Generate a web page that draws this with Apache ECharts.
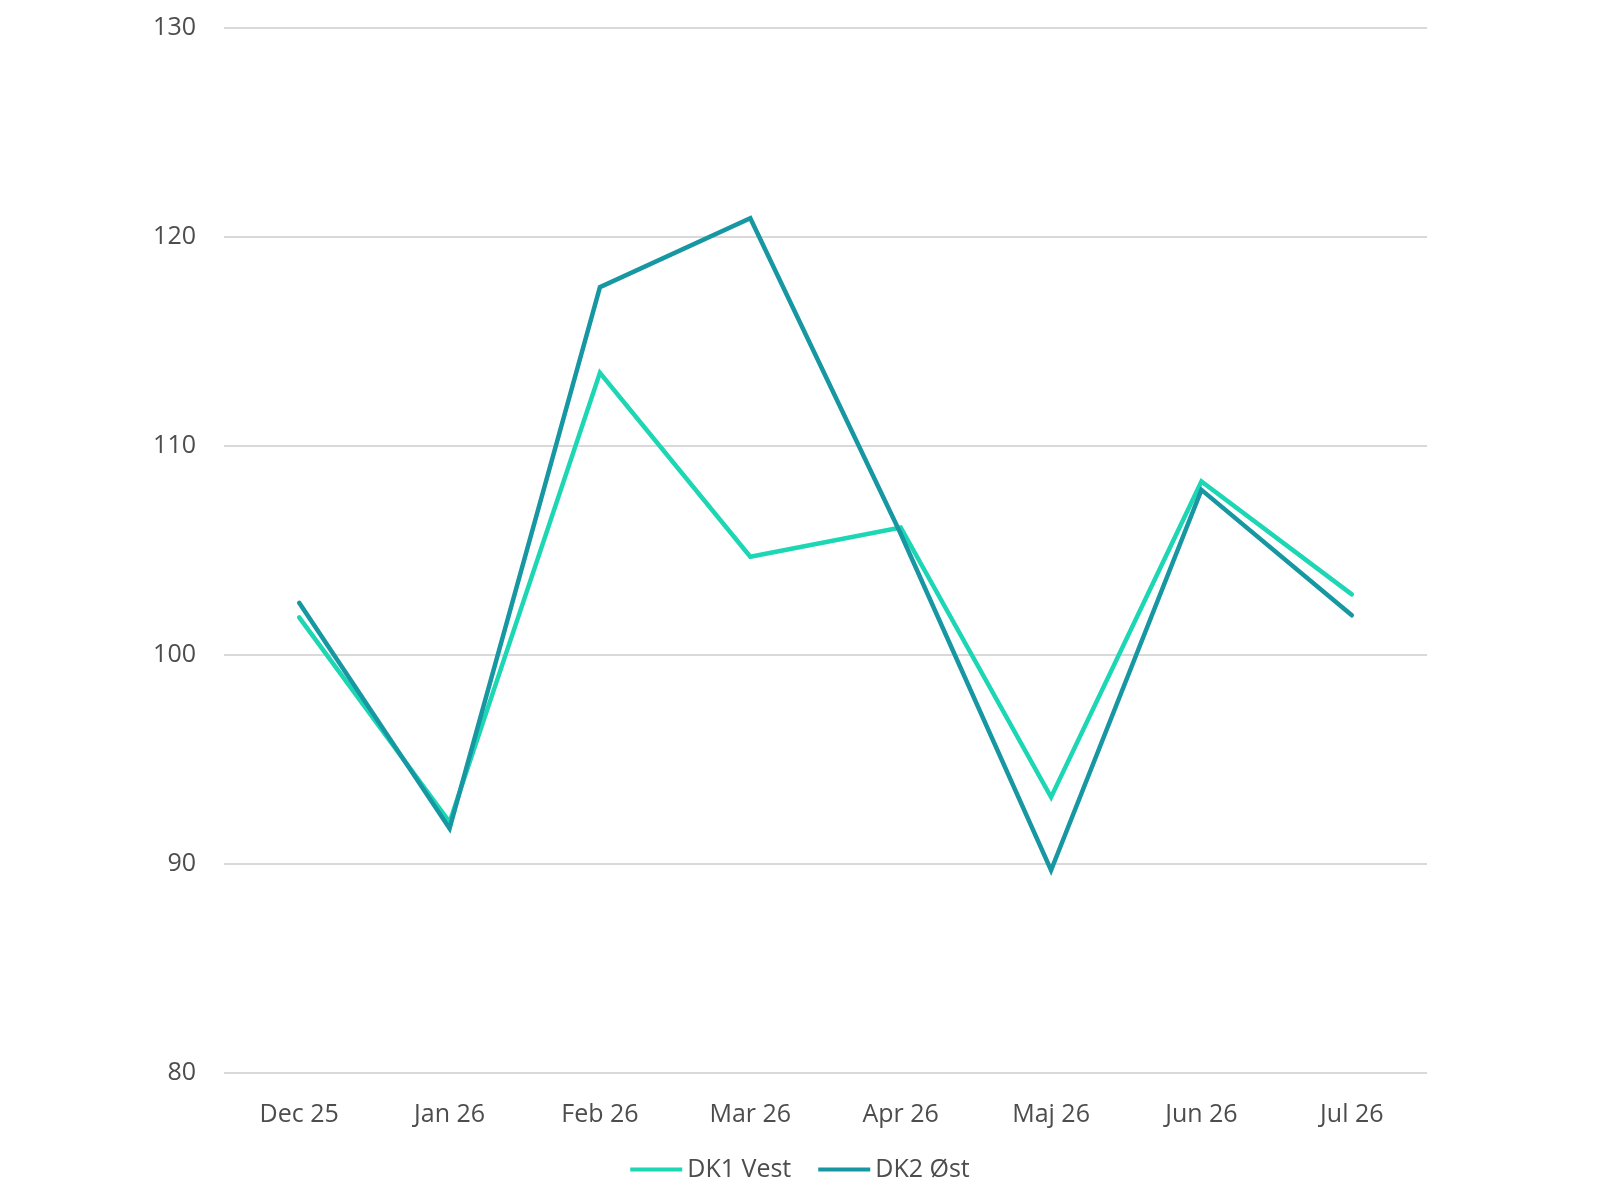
<!DOCTYPE html>
<html>
<head>
<meta charset="utf-8">
<script src="https://cdn.jsdelivr.net/npm/echarts@6/dist/echarts.min.js"></script>
<style>html,body{margin:0;padding:0;background:#fff}#c{width:1600px;height:1200px}</style>
</head>
<body>
<div id="c"></div>
<script>
const categories = ['Dec 25', 'Jan 26', 'Feb 26', 'Mar 26', 'Apr 26', 'Maj 26', 'Jun 26', 'Jul 26'];
const dk1Vest = [101.8, 92.0, 113.5, 104.7, 106.1, 93.2, 108.3, 102.9];
const dk2Ost = [102.5, 91.7, 117.6, 120.9, 105.8, 89.7, 107.9, 101.9];
const seriesNames = ['DK1 Vest', 'DK2 Øst'];

const chart = echarts.init(document.getElementById('c'), null, {renderer: 'canvas'});
const font = '"Open Sans", "Noto Sans", sans-serif';
chart.setOption({
  animation: false,
  backgroundColor: '#ffffff',
  grid: {left: 224, right: 173, top: 28, bottom: 127, containLabel: false},
  legend: {
    data: seriesNames,
    left: 'center',
    bottom: 13,
    icon: 'rect',
    itemWidth: 52,
    itemHeight: 4,
    itemGap: 27,
    textStyle: {fontFamily: font, fontSize: 25, color: '#4d4d4d'}
  },
  xAxis: {
    type: 'category',
    data: categories,
    boundaryGap: true,
    axisLine: {show: false},
    axisTick: {show: false},
    axisLabel: {fontFamily: font, fontSize: 25, color: '#4d4d4d', margin: 29}
  },
  yAxis: {
    type: 'value',
    min: 80,
    max: 130,
    interval: 10,
    axisLine: {show: false},
    axisTick: {show: false},
    axisLabel: {fontFamily: font, fontSize: 25, color: '#4d4d4d', margin: 28},
    splitLine: {lineStyle: {color: '#d9d9d9', width: 2}}
  },
  series: [
    {
      name: seriesNames[0], type: 'line', data: dk1Vest, symbol: 'none',
      itemStyle: {color: '#1dd6b4'},
      lineStyle: {color: '#1dd6b4', width: 4.5, cap: 'round', join: 'miter'}
    },
    {
      name: seriesNames[1], type: 'line', data: dk2Ost, symbol: 'none',
      itemStyle: {color: '#1797a2'},
      lineStyle: {color: '#1797a2', width: 4.5, cap: 'round', join: 'miter'}
    }
  ]
});
</script>
</body>
</html>
